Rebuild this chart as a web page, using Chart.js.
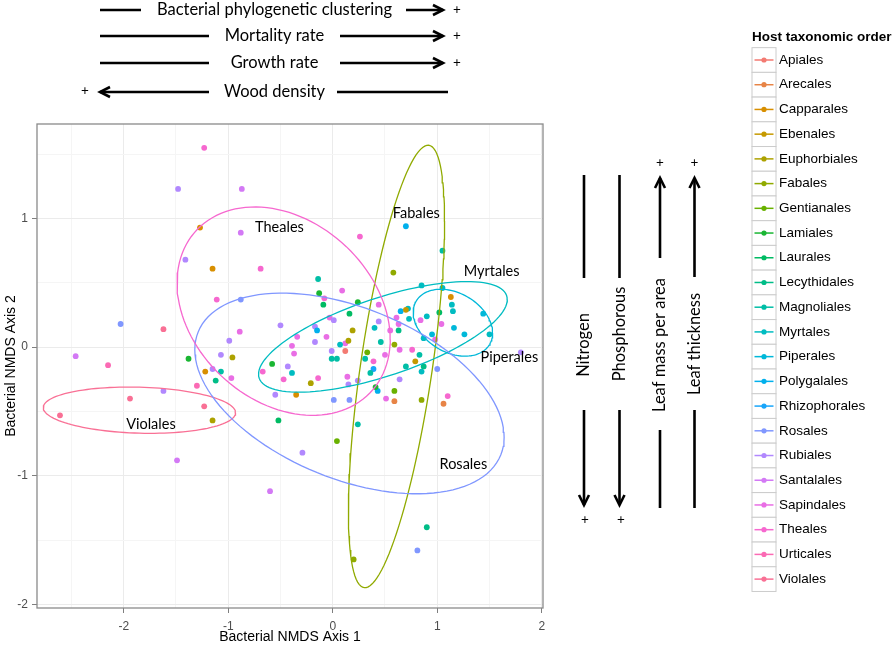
<!DOCTYPE html>
<html>
<head>
<meta charset="utf-8">
<script src="https://cdn.jsdelivr.net/npm/chart.js@4.4.1/dist/chart.umd.min.js"></script>
<style>
html, body { margin: 0; padding: 0; background: #fff; }
#wrap { position: relative; width: 895px; height: 646px; }
</style>
</head>
<body>
<div id="wrap"><canvas id="nmds"></canvas></div>
<script>
// host orders, legend order
var orders = ['Apiales', 'Arecales', 'Capparales', 'Ebenales', 'Euphorbiales', 'Fabales',
    'Gentianales', 'Lamiales', 'Laurales', 'Lecythidales', 'Magnoliales', 'Myrtales',
    'Piperales', 'Polygalales', 'Rhizophorales', 'Rosales', 'Rubiales', 'Santalales',
    'Sapindales', 'Theales', 'Urticales', 'Violales'];

// samples per order: [NMDS axis 1, NMDS axis 2]
var orderPoints = [
    [[0.12, -0.03]],                                                        // Apiales
    [[0.59, -0.42], [1.06, -0.44]],                                         // Arecales
    [[-1.27, 0.93], [-1.15, 0.61], [-1.22, -0.19], [-0.35, -0.37], [1.13, 0.39]], // Capparales
    [[0.70, 0.29], [0.79, -0.11]],                                          // Ebenales
    [[-0.96, -0.08], [-1.15, -0.57], [-0.21, -0.28], [0.15, 0.05], [0.19, 0.13]], // Euphorbiales
    [[0.58, 0.58], [0.20, -1.65], [0.85, -0.41], [0.59, 0.02]],             // Fabales
    [[0.04, -0.73], [0.33, -0.04], [0.59, -0.34]],                          // Gentianales
    [[-1.38, -0.09], [-0.58, -0.13], [-0.13, 0.42], [0.24, 0.35], [0.41, -0.31]], // Lamiales
    [[-0.09, 0.33], [-0.52, -0.57], [0.16, 0.26], [1.02, 0.27]],            // Laurales
    [[-1.12, -0.26], [0.63, 0.13], [0.90, -1.40], [0.87, -0.15]],           // Lecythidales
    [[-0.14, 0.53], [1.05, 0.75], [-1.07, -0.19], [-0.01, -0.09], [0.04, -0.09],
     [0.24, -0.60], [0.36, -0.20], [0.46, 0.04], [0.31, -0.09], [0.70, -0.15], [0.83, -0.06]], // Magnoliales
    [[0.85, 0.48], [1.05, 0.46], [1.14, 0.33], [1.15, 0.28], [0.72, 0.30], [0.73, 0.22],
     [0.90, 0.24], [0.40, 0.15], [1.50, 0.10], [0.87, 0.07], [0.85, -0.19], [-0.39, -0.20], [0.07, 0.02]], // Myrtales
    [[1.44, 0.26], [1.16, 0.15], [1.26, 0.10], [0.95, 0.10]],               // Piperales
    [[0.70, 0.94], [-0.15, 0.13], [0.65, 0.28], [0.43, -0.34]],             // Polygalales
    [[0.39, -0.17]],                                                        // Rhizophorales
    [[-0.88, 0.37], [-2.03, 0.18], [0.01, -0.41], [0.16, -0.41], [1.00, -0.17], [0.81, -1.58]], // Rosales
    [[-1.48, 1.23], [-1.41, 0.68], [-0.50, 0.17], [-0.99, 0.05], [-1.07, -0.06], [-0.43, -0.15],
     [0.01, 0.21], [-0.17, 0.16], [-0.17, 0.04], [-0.01, -0.03], [-1.15, -0.17], [-1.62, -0.34],
     [-0.55, -0.37], [0.15, -0.29], [-0.29, -0.82], [0.24, -0.26], [0.64, -0.25], [1.80, -0.04], [0.44, 0.20]], // Rubiales
    [[-2.46, -0.07], [-1.49, -0.88], [-0.60, -1.12], [-0.87, 1.23], [-0.88, 0.89]], // Santalales
    [[-0.89, 0.12], [-0.34, 0.08], [-0.39, 0.01], [-0.37, -0.05], [0.09, 0.44], [-0.03, 0.23],
     [-0.06, 0.08], [-0.97, -0.24], [0.14, -0.23], [0.44, 0.33], [0.61, 0.23], [0.84, 0.21],
     [1.04, 0.18], [0.98, 0.06], [0.55, 0.13], [0.63, 0.18], [0.12, 0.03], [0.64, -0.02],
     [0.50, -0.06], [0.51, -0.40]],                                         // Sapindales
    [[-1.23, 1.55], [-1.11, 0.37], [-0.69, 0.61], [0.26, 0.86], [-0.08, 0.38], [-0.67, -0.19],
     [-0.47, -0.25], [-0.14, -0.24], [0.39, -0.11], [0.76, -0.02], [1.10, -0.38]], // Theales
    [[-2.15, -0.14], [-1.30, -0.30]],                                       // Urticales
    [[-2.61, -0.53], [-1.94, -0.40], [-1.62, 0.14], [-1.23, -0.46]]         // Violales
];

// 95% ellipses: centre, half width, half height, y offset of the right-most point
var ellipseOrder = ['Theales', 'Rosales', 'Myrtales', 'Piperales', 'Fabales', 'Violales'];
var ellipseCx = [-0.47, 0.16, 0.48, 1.15, 0.61, -1.85];
var ellipseCy = [0.28, -0.36, 0.08, 0.19, -0.15, -0.49];
var ellipseW = [1.02, 1.48, 1.19, 0.38, 0.46, 0.92];
var ellipseH = [0.81, 0.78, 0.43, 0.26, 1.72, 0.18];
var ellipseS = [-0.22, -0.34, 0.29, -0.08, 1.13, -0.02];

var ellipseLabels = ['Theales', 'Fabales', 'Myrtales', 'Piperales', 'Violales', 'Rosales'];
var labelX = [-0.51, 0.80, 1.52, 1.69, -1.74, 1.25];
var labelY = [0.93, 1.04, 0.59, -0.08, -0.60, -0.91];

var xMajor = [-2, -1, 0, 1, 2];
var xMinor = [-2.5, -1.5, -0.5, 0.5, 1.5];
var yMajor = [-2, -1, 0, 1];
var yMinor = [-1.5, -0.5, 0.5, 1.5];

var topTraits = ['Bacterial phylogenetic clustering', 'Mortality rate', 'Growth rate', 'Wood density'];
var sideTraits = ['Nitrogen', 'Phosphorous', 'Leaf mass per area', 'Leaf thickness'];

// ggplot style hue palette
function hcl(h, c, l) {
    var hr = h * Math.PI / 180;
    var U = c * Math.cos(hr), V = c * Math.sin(hr);
    var Y = 100 * (l > 7.999592 ? Math.pow((l + 16) / 116, 3) : l / 903.3);
    var u = U / (13 * l) + 0.1978398, v = V / (13 * l) + 0.4683363;
    var X = 9 * Y * u / (4 * v);
    var Z = -X / 3 - 5 * Y + 3 * Y / v;
    function g(t) {
        t = t / 100;
        t = t > 0.00304 ? 1.055 * Math.pow(t, 1 / 2.4) - 0.055 : 12.92 * t;
        return Math.round(255 * Math.max(0, Math.min(1, t)));
    }
    return 'rgb(' + g(3.240479 * X - 1.537150 * Y - 0.498535 * Z) + ',' +
        g(-0.969256 * X + 1.875992 * Y + 0.041556 * Z) + ',' +
        g(0.055648 * X - 0.204043 * Y + 1.057311 * Z) + ')';
}
var colors = orders.map(function (o, i) { return hcl(15 + 360 * i / orders.length, 92, 65); });

function ellipsePath(i) {
    var pts = [], w = ellipseW[i], s = ellipseS[i], k = Math.sqrt(ellipseH[i] * ellipseH[i] - s * s);
    for (var j = 0; j <= 120; j++) {
        var t = j / 120 * 2 * Math.PI;
        pts.push({x: ellipseCx[i] + w * Math.cos(t), y: ellipseCy[i] + s * Math.cos(t) + k * Math.sin(t)});
    }
    return pts;
}

var datasets = [];
ellipseOrder.forEach(function (name, i) {
    var col = colors[orders.indexOf(name)];
    datasets.push({data: ellipsePath(i), showLine: true, pointRadius: 0, borderColor: col,
        borderWidth: 1.3, fill: false, tension: 0});
});
orders.forEach(function (name, i) {
    datasets.push({label: name, data: orderPoints[i].map(function (p) { return {x: p[0], y: p[1]}; }),
        backgroundColor: colors[i], borderColor: colors[i], pointRadius: 2.9, pointBorderWidth: 0});
});

function gridOpts(major) {
    return {
        color: function (c) { return major.indexOf(c.tick.value) >= 0 ? '#ebebeb' : '#f5f5f5'; },
        tickColor: function (c) { return major.indexOf(c.tick.value) >= 0 ? '#7f7f7f' : 'rgba(0,0,0,0)'; },
        tickLength: 5,
        lineWidth: 1
    };
}

function arrowHead(c, x, y, dx, dy) {
    // chevron pointing along (dx, dy)
    var L = 10, W = 5;
    c.beginPath();
    c.moveTo(x - dx * L - dy * W, y - dy * L + dx * W);
    c.lineTo(x, y);
    c.lineTo(x - dx * L + dy * W, y - dy * L - dx * W);
    c.stroke();
}

var decor = {
    id: 'decor',
    afterDraw: function (chart) {
        var c = chart.ctx, a = chart.chartArea, xs = chart.scales.x, ys = chart.scales.y;
        c.save();
        c.strokeStyle = '#8a8a8a';
        c.lineWidth = 1.3;
        c.strokeRect(a.left, a.top, a.right - a.left, a.bottom - a.top);

        c.fillStyle = '#000';
        c.textAlign = 'center';
        c.textBaseline = 'middle';
        c.font = '14.5px Lato, "Open Sans", sans-serif';
        ellipseLabels.forEach(function (t, i) {
            c.fillText(t, xs.getPixelForValue(labelX[i]), ys.getPixelForValue(labelY[i]));
        });

        // trait arrows above the plot
        c.strokeStyle = '#000';
        c.lineWidth = 2.6;
        c.lineCap = 'butt';
        var rows = [
            {y: 10, a: [100, 141], b: [406, 443]},
            {y: 36, a: [100, 209], b: [340, 443]},
            {y: 63, a: [100, 209], b: [340, 443]},
            {y: 92, a: [100, 209], b: [337, 448]}
        ];
        c.font = '16.5px Lato, "Open Sans", sans-serif';
        rows.forEach(function (r, i) {
            c.beginPath();
            c.moveTo(r.a[0], r.y); c.lineTo(r.a[1], r.y);
            c.moveTo(r.b[0], r.y); c.lineTo(r.b[1], r.y);
            c.stroke();
            c.fillText(topTraits[i], 274.5, r.y);
            if (i < 3) { arrowHead(c, r.b[1], r.y, 1, 0); }
            else { arrowHead(c, r.a[0], r.y, -1, 0); }
        });
        c.font = '13.5px Lato, "Open Sans", sans-serif';
        c.fillText('+', 457, 10); c.fillText('+', 457, 36); c.fillText('+', 457, 63); c.fillText('+', 85, 91);

        // trait arrows right of the plot
        var cols = [
            {x: 584, a: [175, 278], b: [410, 505], t: 345},
            {x: 619.5, a: [175, 278], b: [410, 505], t: 334},
            {x: 660, a: [178, 258], b: [430, 508], t: 345},
            {x: 694.5, a: [178, 277], b: [410, 508], t: 344}
        ];
        cols.forEach(function (col, i) {
            c.beginPath();
            c.moveTo(col.x, col.a[0]); c.lineTo(col.x, col.a[1]);
            c.moveTo(col.x, col.b[0]); c.lineTo(col.x, col.b[1]);
            c.stroke();
            if (i < 2) { arrowHead(c, col.x, col.b[1], 0, 1); }
            else { arrowHead(c, col.x, col.a[0], 0, -1); }
            c.save();
            c.translate(col.x, col.t);
            c.rotate(-Math.PI / 2);
            c.font = '16.5px Lato, "Open Sans", sans-serif';
            c.fillText(sideTraits[i], 0, 0);
            c.restore();
        });
        c.font = '13.5px Lato, "Open Sans", sans-serif';
        c.fillText('+', 585, 520); c.fillText('+', 621, 520);
        c.fillText('+', 660, 163); c.fillText('+', 694.5, 163);

        // legend
        c.textAlign = 'left';
        c.font = 'bold 13.5px "Liberation Sans", Arial, sans-serif';
        c.fillText('Host taxonomic order', 752, 37);
        c.font = '13.5px "Liberation Sans", Arial, sans-serif';
        var step = 24.72;
        orders.forEach(function (name, i) {
            var cy = 60 + i * step;
            c.fillStyle = '#fff';
            c.fillRect(752, cy - step / 2, 24, step);
            c.strokeStyle = '#cccccc';
            c.lineWidth = 1;
            c.strokeRect(752, cy - step / 2, 24, step);
            c.strokeStyle = colors[i];
            c.lineWidth = 1.5;
            c.beginPath(); c.moveTo(754.5, cy); c.lineTo(773.5, cy); c.stroke();
            c.fillStyle = colors[i];
            c.beginPath(); c.arc(764, cy, 2.6, 0, 2 * Math.PI); c.fill();
            c.fillStyle = '#000';
            c.fillText(name, 779, cy);
        });
        c.restore();
    }
};

var ctx = document.getElementById('nmds').getContext('2d');
var chart = new Chart(ctx, {
    type: 'scatter',
    data: {datasets: datasets},
    options: {
        responsive: true,
        maintainAspectRatio: false,
        animation: false,
        layout: {padding: {left: 0, top: 124, right: 352, bottom: 0}},
        plugins: {legend: {display: false}, tooltip: {enabled: false}},
        scales: {
            x: {
                type: 'linear', min: -2.83, max: 2.012,
                afterBuildTicks: function (s) {
                    s.ticks = xMajor.concat(xMinor).sort(function (p, q) { return p - q; })
                        .map(function (v) { return {value: v}; });
                },
                afterFit: function (s) { s.height = 38; },
                grid: gridOpts(xMajor),
                border: {display: false},
                ticks: {
                    autoSkip: false, maxRotation: 0, padding: 6, color: '#4d4d4d',
                    font: {family: '"Liberation Sans", Arial, sans-serif', size: 12},
                    callback: function (v) { return xMajor.indexOf(v) >= 0 ? String(v) : ''; }
                },
                title: {display: true, text: 'Bacterial NMDS Axis 1', color: '#000',
                    font: {family: '"Liberation Sans", Arial, sans-serif', size: 14},
                    padding: {top: 0, bottom: 0}}
            },
            y: {
                type: 'linear', min: -2.028, max: 1.735,
                afterBuildTicks: function (s) {
                    s.ticks = yMajor.concat(yMinor).sort(function (p, q) { return p - q; })
                        .map(function (v) { return {value: v}; });
                },
                afterFit: function (s) { s.width = 37; },
                grid: gridOpts(yMajor),
                border: {display: false},
                ticks: {
                    autoSkip: false, padding: 4, color: '#4d4d4d',
                    font: {family: '"Liberation Sans", Arial, sans-serif', size: 12},
                    callback: function (v) { return yMajor.indexOf(v) >= 0 ? String(v) : ''; }
                },
                title: {display: true, text: 'Bacterial NMDS Axis 2', color: '#000',
                    font: {family: '"Liberation Sans", Arial, sans-serif', size: 14},
                    padding: {top: 3, bottom: 0}}
            }
        }
    },
    plugins: [decor]
});
</script>
</body>
</html>
